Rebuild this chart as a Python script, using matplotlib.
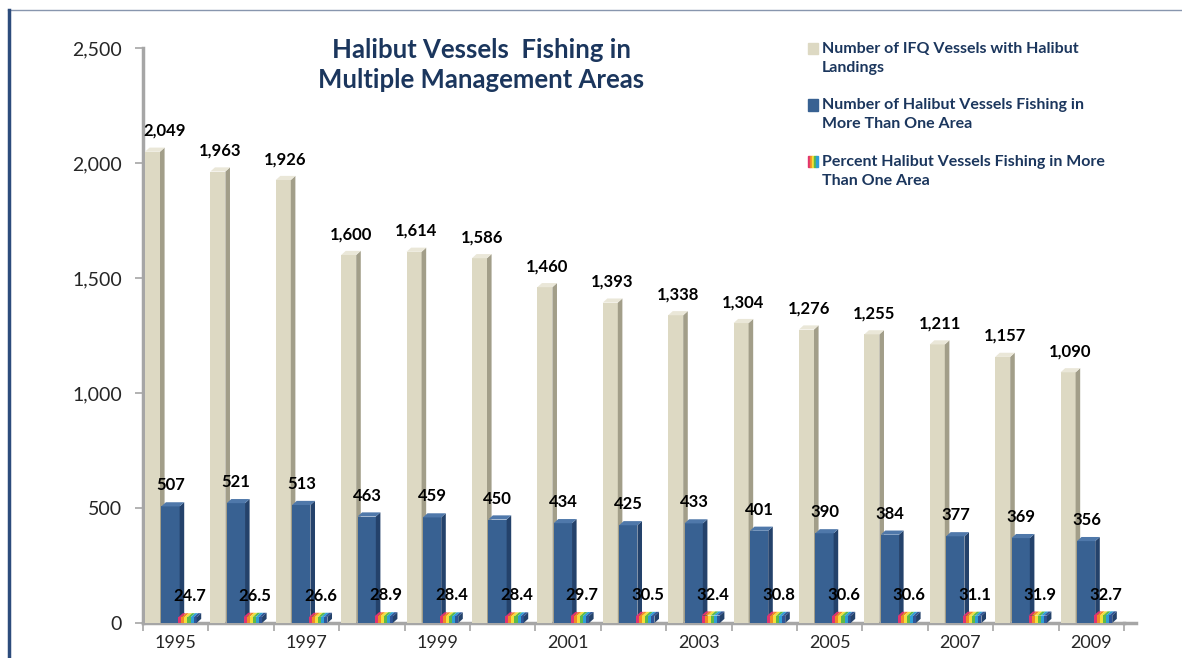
import numpy as np
import matplotlib.pyplot as plt
from matplotlib.patches import Polygon, Rectangle
from matplotlib.lines import Line2D

plt.rcParams['font.family'] = ['Lato', 'DejaVu Sans']

# data
years = [str(y) for y in range(1995, 2010)]
ifq_vessels = [2049, 1963, 1926, 1600, 1614, 1586, 1460, 1393, 1338, 1304, 1276, 1255, 1211, 1157, 1090]
multi_area = [507, 521, 513, 463, 459, 450, 434, 425, 433, 401, 390, 384, 377, 369, 356]
pct_multi = [24.7, 26.5, 26.6, 28.9, 28.4, 28.4, 29.7, 30.5, 32.4, 30.8, 30.6, 30.6, 31.1, 31.9, 32.7]
legend_labels = ['Number of IFQ Vessels with Halibut\nLandings',
                 'Number of Halibut Vessels Fishing in\nMore Than One Area',
                 'Percent Halibut Vessels Fishing in More\nThan One Area']
title = 'Halibut Vessels  Fishing in\nMultiple Management Areas'

beige, beige_side, beige_top = '#DDD9C3', '#A29E89', '#EAE7D8'
blue, blue_side, blue_top = '#386192', '#24426B', '#4F78AA'
rainbow = ['#E2336F', '#F28A25', '#F4E03A', '#5DBA47', '#2E9FD6', '#2F5597']
navy = '#1B365D'
gray = '#A6A6A6'

fig = plt.figure(figsize=(11.82, 6.58), dpi=100)
ax = fig.add_axes([143 / 1182, 1 - 623 / 658, 981 / 1182, 575 / 658])

x = np.arange(len(years))
dx = 0.07   # depth of the fake 3d faces (category units)
dy = 18     # same in value units


def faces(x0, w, h, side, top, z):
    for i in range(len(h)):
        r = x0[i] + w
        ax.add_patch(Polygon([(r, 0), (r + dx, dy), (r + dx, h[i] + dy), (r, h[i])],
                             facecolor=side, edgecolor='none', zorder=z))
        if top is not None:
            ax.add_patch(Polygon([(x0[i], h[i]), (r, h[i]), (r + dx, h[i] + dy), (x0[i] + dx, h[i] + dy)],
                                 facecolor=top, edgecolor='none', zorder=z))


# beige bars
wb = 0.23
xb = x - 0.47
ax.bar(xb, ifq_vessels, wb, align='edge', color=beige, zorder=2)
faces(xb, wb, ifq_vessels, beige_side, beige_top, 2)

# blue bars
wm = 0.28
xm = x - 0.22
ax.bar(xm, multi_area, wm, align='edge', color=blue, zorder=3)
faces(xm, wm, multi_area, blue_side, blue_top, 3)

# rainbow bars made of thin slices
wp = 0.28
xp = x + 0.04
n = len(rainbow)
for k, c in enumerate(rainbow):
    ax.bar(xp + k * wp / n, pct_multi, wp / n, align='edge', color=c, zorder=4, linewidth=0)
    for i in range(len(x)):
        x0 = xp[i] + k * wp / n
        ax.add_patch(Polygon([(x0, pct_multi[i]), (x0 + wp / n, pct_multi[i]),
                              (x0 + wp / n + dx, pct_multi[i] + dy), (x0 + dx, pct_multi[i] + dy)],
                             facecolor=c, edgecolor='none', zorder=4))
faces(xp, wp, pct_multi, blue_side, None, 4)

# value labels
lab = dict(textcoords='offset points', va='baseline', fontsize=12,
           fontweight='bold', color='black', zorder=6)
for i in range(len(x)):
    if i == 0:
        # first label sits right of the axis line
        ax.annotate(f'{ifq_vessels[i]:,}', (xb[i] - 0.03, ifq_vessels[i]), xytext=(0, 11.5), ha='left', **lab)
    else:
        ax.annotate(f'{ifq_vessels[i]:,}', (xb[i] + (wb + dx) / 2, ifq_vessels[i]), xytext=(0, 11.5), ha='center', **lab)
    ax.annotate(f'{multi_area[i]:,}', (xm[i] + (wm + dx) / 2 - 0.03, multi_area[i]), xytext=(0, 11.5), ha='center', **lab)
    ax.annotate(f'{pct_multi[i]:.1f}', (xp[i] + (wp + dx) / 2, pct_multi[i]), xytext=(0, 11.5), ha='center', **lab)

ax.set_xlim(-0.5, 14.5)
ax.set_ylim(0, 2500)

for s in ['top', 'right']:
    ax.spines[s].set_visible(False)
for s in ['left', 'bottom']:
    ax.spines[s].set_color(gray)
    ax.spines[s].set_linewidth(2.5)
    ax.spines[s].set_zorder(1)

ax.set_yticks(np.arange(0, 2501, 500))
ax.set_yticklabels([f'{v:,}' for v in range(0, 2501, 500)])
ax.tick_params(axis='y', length=6, width=1.2, color=gray, labelsize=14, pad=9, labelcolor='#262626')
ax.set_xticks(x[::2])
ax.set_xticklabels(years[::2])
ax.set_xticks(np.arange(-0.5, 15, 1), minor=True)
ax.tick_params(axis='x', which='major', length=0, labelsize=13, pad=9, labelcolor='#262626')
ax.tick_params(axis='x', which='minor', length=6, width=1.2, color=gray)
ax.add_line(Line2D([14.5, 14.68], [0, 0], color=gray, lw=2.5, clip_on=False))

fig.text(481 / 1182, 1 - 65 / 658, title, ha='center', va='center', fontsize=18.5,
         fontweight='bold', color=navy, linespacing=1.35)

# legend drawn by hand (one entry has a rainbow swatch)
for j, txt in enumerate(legend_labels):
    ytop = 42 + j * 56.5
    fig.text(822 / 1182, 1 - ytop / 658, txt, ha='left', va='top', fontsize=11.5,
             fontweight='bold', color=navy, linespacing=1.45)
    if j == 0:
        fig.add_artist(Rectangle((808 / 1182, 1 - (ytop + 12) / 658), 10 / 1182, 11 / 658,
                                 transform=fig.transFigure, color=beige))
    elif j == 1:
        fig.add_artist(Rectangle((808 / 1182, 1 - (ytop + 12) / 658), 10 / 1182, 11 / 658,
                                 transform=fig.transFigure, color=blue))
    else:
        for k, c in enumerate(rainbow[:5]):
            fig.add_artist(Rectangle(((808 + 2 * k) / 1182, 1 - (ytop + 12) / 658), 2 / 1182, 11 / 658,
                                     transform=fig.transFigure, color=c))

# frame lines of the slide
fig.add_artist(Line2D([8 / 1182, 1], [1 - 10 / 658, 1 - 10 / 658], color='#8896AE', lw=1))
fig.add_artist(Line2D([9.5 / 1182, 9.5 / 1182], [0, 1 - 10 / 658], color='#2D4C7C', lw=2.5))

fig.savefig('out.png', dpi=100)
